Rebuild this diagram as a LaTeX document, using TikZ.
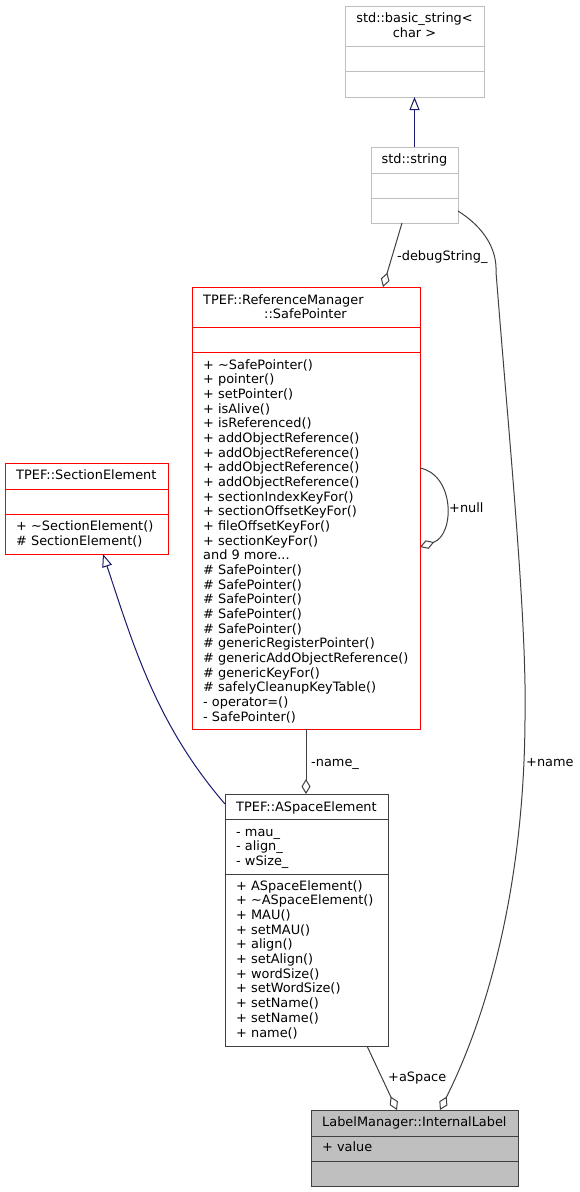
\documentclass[tikz,border=0pt]{standalone}
\usepackage{fontspec}
\setmainfont{DejaVu Sans}
\usetikzlibrary{arrows.meta}
\definecolor{edgegray}{HTML}{404040}
\definecolor{navyblue}{HTML}{191970}
\definecolor{boxgray}{HTML}{BFBFBF}
\definecolor{redline}{HTML}{FF0000}
\newcommand{\mydots}{...}
\begin{document}
\begin{tikzpicture}[x=1pt,y=-1pt,
  font=\fontsize{12.9}{14.7}\selectfont,
  classbox/.style={draw, line width=1pt, inner sep=0pt, outer sep=0pt, anchor=north west},
  txt/.style={anchor=base west, inner sep=0pt},
  ctxt/.style={anchor=base, inner sep=0pt},
  inh/.style={navyblue, line width=1pt, -{Triangle[open, length=13pt, width=10pt]}},
  agg/.style={edgegray, line width=1pt, -{Diamond[open, length=15pt, width=9pt]}}
]
\fill[white] (0,0) rectangle (580,1192);
\useasboundingbox (0,0) rectangle (580,1192);

% std::basic_string<char>
\node[classbox, draw=boxgray, minimum width=139pt, minimum height=91pt] (bs) at (345,6) {};
\draw[boxgray, line width=1pt] (bs.west |- 0,46) -- (bs.east |- 0,46);
\draw[boxgray, line width=1pt] (bs.west |- 0,71) -- (bs.east |- 0,71);
\node[ctxt] (bst1) at (414.5,22.5) {std::basic\_string<};
\node[ctxt] (bst2) at (414.5,37.5) {char >};

% std::string
\node[classbox, draw=boxgray, minimum width=87pt, minimum height=76pt] (ss) at (371,147) {};
\draw[boxgray, line width=1pt] (ss.west |- 0,173) -- (ss.east |- 0,173);
\draw[boxgray, line width=1pt] (ss.west |- 0,198) -- (ss.east |- 0,198);
\node[ctxt] (sst) at (414.5,163) {std::string};

% SafePointer
\node[classbox, draw=redline, minimum width=228pt, minimum height=442pt] (sp) at (192,287) {};
\draw[redline, line width=1pt] (sp.west |- 0,327) -- (sp.east |- 0,327);
\draw[redline, line width=1pt] (sp.west |- 0,352) -- (sp.east |- 0,352);
\node[txt] (spt1) at (203,304) {TPEF::ReferenceManager};
\node[ctxt] (spt2) at (305.5,318.5) {::SafePointer};
\foreach \t [count=\i from 0] in {+ \textasciitilde SafePointer(), + pointer(), + setPointer(), + isAlive(), + isReferenced(), + addObjectReference(), + addObjectReference(), + addObjectReference(), + addObjectReference(), + sectionIndexKeyFor(), + sectionOffsetKeyFor(), + fileOffsetKeyFor(), + sectionKeyFor(), and 9 more\mydots, \# SafePointer(), \# SafePointer(), \# SafePointer(), \# SafePointer(), \# SafePointer(), \# genericRegisterPointer(), \# genericAddObjectReference(), \# genericKeyFor(), \# safelyCleanupKeyTable(), - operator=(), - SafePointer()}
  \node[txt] (spm\i) at (203,{369+\i*14.67}) {\t};

% SectionElement
\node[classbox, draw=redline, minimum width=163pt, minimum height=91pt] (se) at (5,463) {};
\draw[redline, line width=1pt] (se.west |- 0,489) -- (se.east |- 0,489);
\draw[redline, line width=1pt] (se.west |- 0,514) -- (se.east |- 0,514);
\node[txt] (set) at (16,479) {TPEF::SectionElement};
\node[txt] (sem0) at (16,530) {+ \textasciitilde SectionElement()};
\node[txt] (sem1) at (16,545) {\# SectionElement()};

% ASpaceElement
\node[classbox, draw=edgegray, minimum width=163pt, minimum height=252pt] (ae) at (225,794) {};
\draw[edgegray, line width=1pt] (ae.west |- 0,819) -- (ae.east |- 0,819);
\draw[edgegray, line width=1pt] (ae.west |- 0,874) -- (ae.east |- 0,874);
\node[txt] (aet) at (236,811) {TPEF::ASpaceElement};
\foreach \t [count=\i from 0] in {- mau\_, - align\_, - wSize\_}
  \node[txt] (aea\i) at (236,{836+\i*14.67}) {\t};
\foreach \t [count=\i from 0] in {+ ASpaceElement(), + \textasciitilde ASpaceElement(), + MAU(), + setMAU(), + align(), + setAlign(), + wordSize(), + setWordSize(), + setName(), + setName(), + name()}
  \node[txt] (aem\i) at (236,{890+\i*14.7}) {\t};

% InternalLabel
\node[classbox, draw=edgegray, fill=boxgray, minimum width=207pt, minimum height=76pt] (il) at (311,1110) {};
\draw[edgegray, line width=1pt] (il.west |- 0,1136) -- (il.east |- 0,1136);
\draw[edgegray, line width=1pt] (il.west |- 0,1161) -- (il.east |- 0,1161);
\node[txt] (ilt) at (322,1126.5) {LabelManager::InternalLabel};
\node[txt] (ila) at (322,1151.5) {+ value};

% inheritance
\draw[inh] (ss.north) -- (bs.south);
\draw[inh] ([yshift=-10pt]ae.north west) .. controls (156,724) and (133,644) .. ([xshift=16.5pt]se.south);

% aggregations
\draw[agg] ([xshift=31pt]ss.south west) -- ([xshift=191pt]sp.north west);
\node[txt] (lds) at (397,260) {-debugString\_};

\draw[agg] ([yshift=-181pt]sp.north east) .. controls (455,475) and (455,535) .. ([yshift=-260pt]sp.north east);
\node[txt] (lnull) at (449,512) {+null};

\draw[agg] (sp.south) -- (sp.south |- ae.north);
\node[txt] (lname) at (311,766) {-name\_};

\draw[agg] ([xshift=142pt]ae.south west) -- ([xshift=86pt]il.north west);
\node[txt] (laspace) at (388,1081) {+aSpace};

\draw[agg] ([yshift=-64pt]ss.north east) .. controls (485,228) and (497,250) .. (496,272)
  .. controls (510,450) and (527,620) .. (525,720)
  .. controls (524,880) and (490,1010) .. ([xshift=129pt]il.north west);
\node[txt] (lnm) at (526,766) {+name};
\end{tikzpicture}
\end{document}
